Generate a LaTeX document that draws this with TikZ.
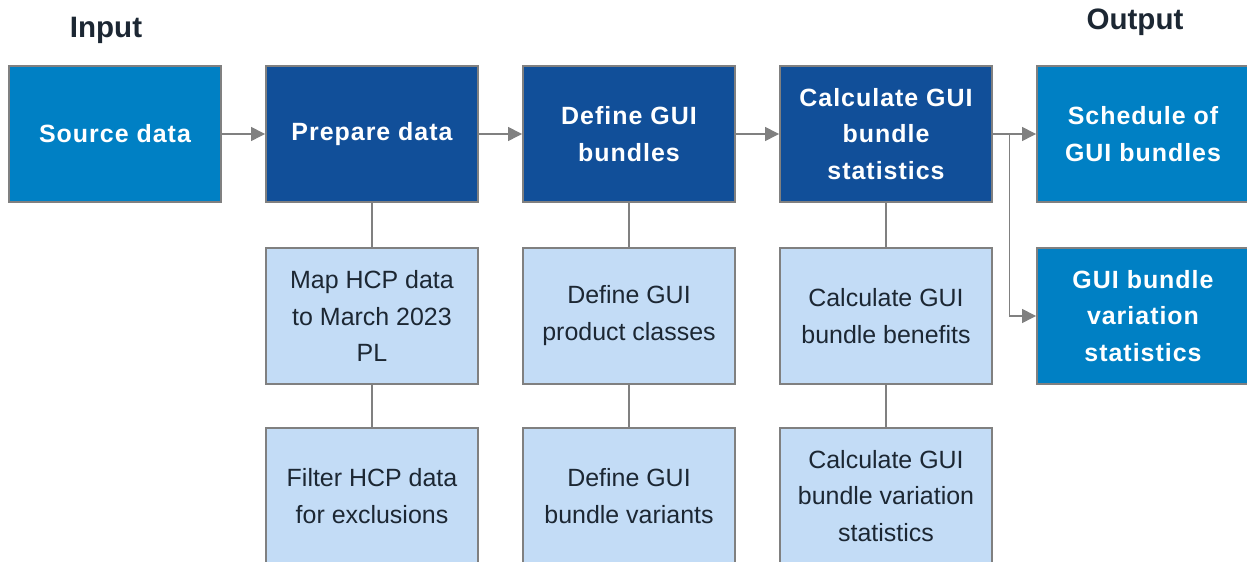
\documentclass[tikz,border=0pt]{standalone}
\usepackage{fontspec}
\setmainfont{Liberation Sans}
\usepackage{xcolor}
\usetikzlibrary{arrows.meta}

\definecolor{srcblue}{HTML}{0080C4}
\definecolor{darkblue}{HTML}{114F99}
\definecolor{lightblue}{HTML}{C3DCF6}
\definecolor{edgegray}{HTML}{808080}
\definecolor{inktext}{HTML}{1C2733}

\tikzset{
    basebox/.style={rectangle, draw=edgegray, line width=1.1pt, inner sep=0pt,
        minimum width=4.24cm, minimum height=2.72cm, align=center,
        font=\fontsize{14.2}{21}\selectfont},
    srcbox/.style={basebox, fill=srcblue, text=white,
        font=\fontsize{14.2}{21}\selectfont\bfseries\addfontfeature{LetterSpace=4}},
    darkbox/.style={basebox, fill=darkblue, text=white,
        font=\fontsize{14.2}{21}\selectfont\bfseries\addfontfeature{LetterSpace=4}},
    lightbox/.style={basebox, fill=lightblue, text=inktext},
    flow/.style={draw=edgegray, line width=0.8pt, -{Triangle[length=0.28cm, width=0.28cm]}},
    link/.style={draw=edgegray, line width=0.8pt}
}

\begin{document}
\begin{tikzpicture}
    \def\sep{4.14cm}
    \def\drop{2.64cm}
    \useasboundingbox (0,0) rectangle (24.94,-11.24);

    \node[font=\fontsize{16.8}{20}\selectfont\bfseries, text=inktext] (input) at (2.12,-0.60) {Input};
    \node[font=\fontsize{16.8}{20}\selectfont\bfseries, text=inktext] (output) at (22.70,-0.44) {Output};

    \node[srcbox] (src) at (2.30,-2.68) {Source data};
    \node[darkbox, right of=src, xshift=\sep] (prep) {Prepare data};
    \node[darkbox, right of=prep, xshift=\sep] (define) {Define GUI\\bundles};
    \node[darkbox, right of=define, xshift=\sep] (calc) {Calculate GUI\\bundle\\statistics};
    \node[srcbox, right of=calc, xshift=\sep] (sched) {Schedule of\\GUI bundles};
    \node[srcbox, below of=sched, yshift=-\drop] (var) {GUI bundle\\variation\\statistics};

    \node[lightbox, below of=prep, yshift=-\drop] (map) {Map HCP data\\to March 2023\\PL};
    \node[lightbox, below of=map, yshift=-2.6cm] (filter) {Filter HCP data\\for exclusions};
    \node[lightbox, below of=define, yshift=-\drop] (classes) {Define GUI\\product classes};
    \node[lightbox, below of=classes, yshift=-2.6cm] (variants) {Define GUI\\bundle variants};
    \node[lightbox, below of=calc, yshift=-\drop] (benefits) {Calculate GUI\\bundle benefits};
    \node[lightbox, below of=benefits, yshift=-2.6cm] (varstats) {Calculate GUI\\bundle variation\\statistics};

    \draw[flow] (src.east) -- (prep.west);
    \draw[flow] (prep.east) -- (define.west);
    \draw[flow] (define.east) -- (calc.west);
    \draw[flow] (calc.east) -- (sched.west);
    \draw[link] (calc.east) -- ++(0.33,0) coordinate (fork);
    \draw[flow] (fork) |- (var.west);

    \draw[link] (prep.south) -- (map.north);
    \draw[link] (map.south) -- (filter.north);
    \draw[link] (define.south) -- (classes.north);
    \draw[link] (classes.south) -- (variants.north);
    \draw[link] (calc.south) -- (benefits.north);
    \draw[link] (benefits.south) -- (varstats.north);
\end{tikzpicture}
\end{document}
